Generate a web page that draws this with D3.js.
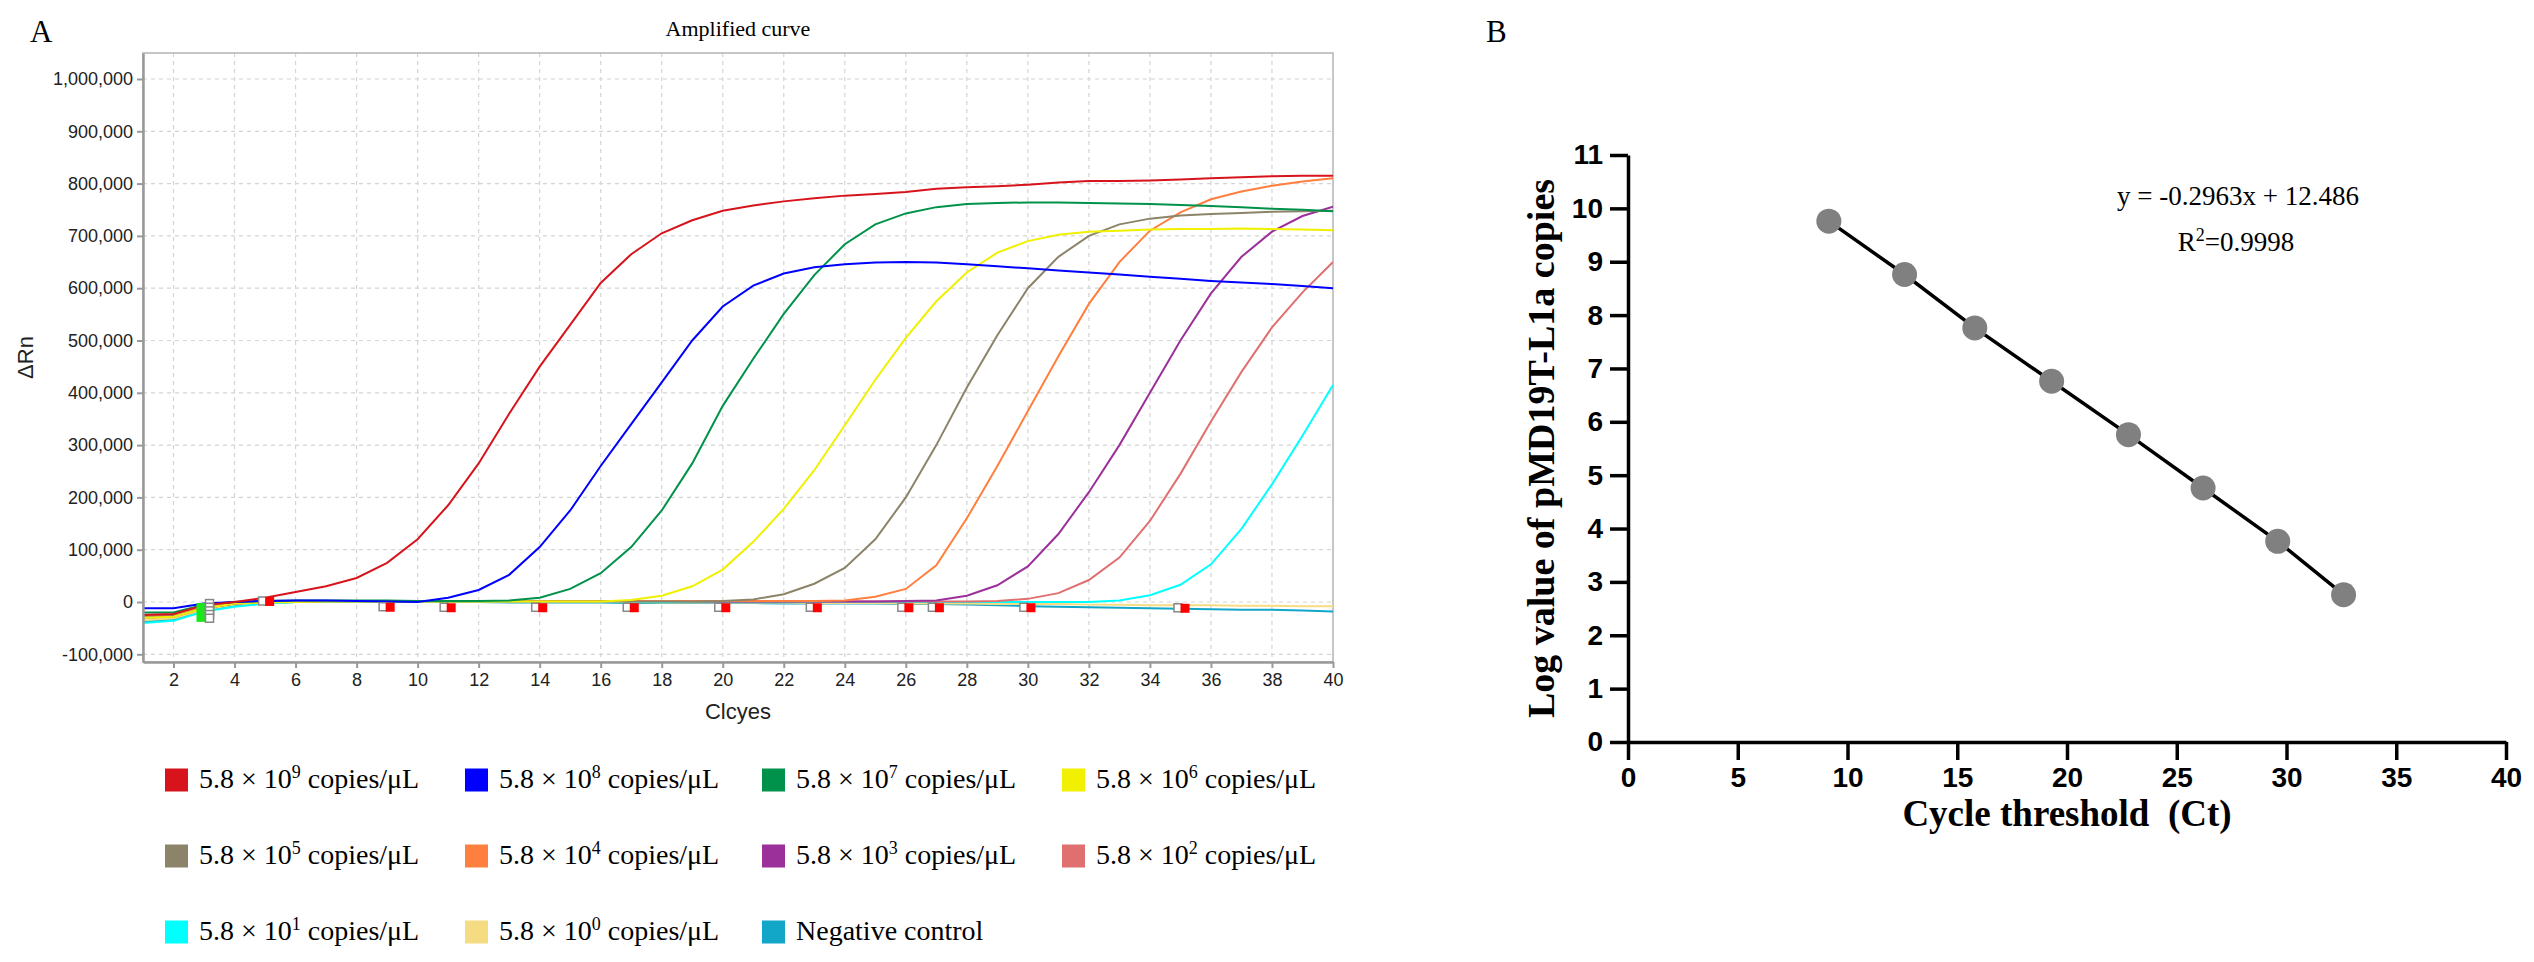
<!DOCTYPE html>
<html>
<head>
<meta charset="utf-8">
<script src="https://cdn.jsdelivr.net/npm/d3@7"></script>
<style>
body { margin: 0; background: #fff; }
svg { display: block; }
</style>
</head>
<body>
<script>

///////////////////////////////////////////////////////////////////////////////
// data: amplification curves (ΔRn in thousands), cycles 1..40

const cycles = [1, 2, 3, 4, 5, 6, 7, 8, 9, 10, 11, 12, 13, 14, 15, 16, 17, 18, 19, 20,
    21, 22, 23, 24, 25, 26, 27, 28, 29, 30, 31, 32, 33, 34, 35, 36, 37, 38, 39, 40]

const amp9 = [-25, -23, -6, 0, 8, 19, 30, 46, 75, 120, 185, 265, 360, 450, 530, 610, 665, 705, 730, 748,
    758, 766, 772, 777, 780, 784, 790, 793, 795, 798, 802, 805, 805, 806, 808, 810, 812, 814, 815, 815]
const amp8 = [-12, -12, -3, 0, 2, 3, 3, 2, 1, 0, 8, 23, 52, 105, 175, 260, 340, 420, 500, 565,
    605, 628, 640, 646, 649, 650, 649, 646, 642, 638, 634, 630, 626, 622, 618, 614, 611, 608, 604, 600]
const amp7 = [-20, -20, -5, 0, 2, 3, 3, 3, 3, 2, 2, 2, 3, 8, 25, 55, 105, 175, 265, 375,
    465, 551, 625, 684, 722, 743, 755, 761, 763, 764, 764, 763, 762, 761, 759, 757, 755, 752, 750, 747]
const amp6 = [-30, -28, -12, -3, -1, 0, 1, 1, 1, 1, 1, 1, 1, 1, 1, 1, 4, 12, 30, 62,
    115, 178, 252, 338, 425, 505, 575, 630, 668, 690, 702, 708, 710, 712, 713, 713, 714, 713, 712, 711]
const amp5 = [-28, -27, -12, -3, 0, 1, 1, 1, 1, 1, 1, 1, 1, 1, 1, 1, 1, 1, 1, 2,
    5, 15, 35, 65, 120, 200, 300, 410, 510, 600, 660, 700, 722, 733, 739, 742, 744, 746, 747, 748]
const amp4 = [-25, -24, -10, -2, 0, 1, 2, 2, 2, 2, 2, 2, 2, 2, 2, 2, 2, 2, 2, 2,
    2, 2, 2, 3, 10, 25, 70, 160, 260, 365, 470, 570, 650, 710, 745, 770, 785, 796, 804, 810]
const amp3 = [-27, -25, -11, -3, 0, 1, 2, 2, 2, 2, 2, 2, 2, 2, 2, 2, 2, 2, 2, 1,
    1, 1, 1, 1, 1, 2, 3, 12, 32, 68, 130, 210, 300, 400, 500, 590, 660, 708, 738, 756]
const amp2 = [-30, -28, -12, -3, 0, 1, 2, 2, 2, 2, 2, 2, 2, 2, 2, 2, 2, 2, 1, 1,
    1, 1, 1, 1, 1, 1, 1, 1, 2, 6, 17, 42, 85, 155, 245, 345, 440, 525, 592, 650]
const amp1 = [-40, -36, -18, -9, -3, 0, 1, 1, 1, 1, 1, 1, 1, 1, 1, 1, 1, 0, 0, 0,
    0, 0, 0, 0, 0, 0, 0, 0, 0, 0, 0, 0, 3, 13, 33, 72, 140, 225, 318, 415]
const amp0 = [-35, -31, -15, -5, -2, 0, 1, 1, 1, 1, 1, 0, 0, 0, 0, 0, 0, -1, -1, -1,
    -1, -1, -2, -2, -2, -3, -3, -3, -4, -4, -4, -5, -5, -6, -6, -6, -7, -7, -8, -8]
const ampNeg = [-38, -33, -16, -7, -3, 0, 0, 0, 0, 0, 0, 0, -1, -1, -1, -1, -2, -2, -2, -2,
    -2, -3, -3, -3, -3, -4, -4, -5, -6, -8, -9, -10, -11, -12, -13, -14, -15, -15, -16, -18]

const seriesExponents = [9, 8, 7, 6, 5, 4, 3, 2, 1, 0, null]
const seriesColors = ['#d7141c', '#0000ff', '#00924a', '#f0f000', '#8c8468', '#ff7f3f',
    '#9b309b', '#e07070', '#00ffff', '#f5dc82', '#12a6c8']
const seriesValues = [amp9, amp8, amp7, amp6, amp5, amp4, amp3, amp2, amp1, amp0, ampNeg]

// threshold markers on the amplification plot
const markerCycles = [5.15, 9.1, 11.1, 14.1, 17.1, 20.1, 23.1, 26.1, 27.1, 30.1, 35.15]
const markerValues = [1, -10, -11, -11, -11, -11, -11, -11, -11, -11, -12]
const startMarkerValues = [-3, -10, -17, -24, -31]

const yTicksA = [-100, 0, 100, 200, 300, 400, 500, 600, 700, 800, 900, 1000]
const xTicksA = [2, 4, 6, 8, 10, 12, 14, 16, 18, 20, 22, 24, 26, 28, 30, 32, 34, 36, 38, 40]

// standard curve
const ctValues = [9.15, 12.6, 15.8, 19.3, 22.8, 26.2, 29.6, 32.6]
const logCopies = [9.76, 8.76, 7.76, 6.76, 5.76, 4.76, 3.76, 2.76]
const xTicksB = [0, 5, 10, 15, 20, 25, 30, 35, 40]
const yTicksB = [0, 1, 2, 3, 4, 5, 6, 7, 8, 9, 10, 11]

///////////////////////////////////////////////////////////////////////////////

const width = 2534
const height = 962
const serif = '"Times New Roman", "Liberation Serif", serif'
const sans = 'Arial, "Liberation Sans", sans-serif'

const svg = d3.select('body').append('svg')
    .attr('width', width)
    .attr('height', height)

///////////////////////////////////////////////////////////////////////////////
// panel A

const pa = { left: 143, right: 1333, top: 53, bottom: 662 }
const xA = d3.scaleLinear().domain([1, 40]).range([pa.left, pa.right])
const yA = d3.scaleLinear().domain([-114.7, 1049.7]).range([pa.bottom, pa.top])

svg.append('text')
    .attr('x', 30).attr('y', 42)
    .style('font-family', serif).style('font-size', '31px')
    .text('A')

svg.append('text')
    .attr('x', (pa.left + pa.right) / 2).attr('y', 36)
    .attr('text-anchor', 'middle')
    .style('font-family', serif).style('font-size', '22px')
    .text('Amplified curve')

const gA = svg.append('g')

// grid
gA.append('g').selectAll('line').data(yTicksA).join('line')
    .attr('x1', pa.left).attr('x2', pa.right)
    .attr('y1', d => yA(d)).attr('y2', d => yA(d))
    .attr('stroke', '#d4d4d4').attr('stroke-width', 1.2).attr('stroke-dasharray', '4,4')
gA.append('g').selectAll('line').data(xTicksA.filter(d => d < 40)).join('line')
    .attr('y1', pa.top).attr('y2', pa.bottom)
    .attr('x1', d => xA(d)).attr('x2', d => xA(d))
    .attr('stroke', '#d4d4d4').attr('stroke-width', 1.2).attr('stroke-dasharray', '4,4')

gA.append('rect')
    .attr('x', pa.left).attr('y', pa.top)
    .attr('width', pa.right - pa.left).attr('height', pa.bottom - pa.top)
    .attr('fill', 'none').attr('stroke', '#b4b4b4').attr('stroke-width', 1.5)

// curves
svg.append('clipPath').attr('id', 'clipA')
    .append('rect')
    .attr('x', pa.left).attr('y', pa.top)
    .attr('width', pa.right - pa.left).attr('height', pa.bottom - pa.top)

const line = d3.line()
    .x((d, i) => xA(cycles[i]))
    .y(d => yA(d))

gA.append('g').attr('clip-path', 'url(#clipA)')
    .selectAll('path')
    .data(seriesValues.map((v, i) => ({ v, c: seriesColors[i] })).reverse())
    .join('path')
        .attr('d', d => line(d.v))
        .attr('fill', 'none')
        .attr('stroke', d => d.c)
        .attr('stroke-width', 2)

// markers
const mk = 9
gA.append('rect')
    .attr('x', xA(2.9) - 4.5).attr('y', yA(-2))
    .attr('width', mk).attr('height', yA(-38) - yA(-2))
    .attr('fill', '#18e818')
gA.append('g').selectAll('rect').data(startMarkerValues).join('rect')
    .attr('x', xA(3.18) - 4).attr('y', d => yA(d) - 4)
    .attr('width', 8).attr('height', 8)
    .attr('fill', '#fff').attr('stroke', '#888').attr('stroke-width', 1.5)
gA.append('g').selectAll('rect').data(markerCycles).join('rect')
    .attr('x', d => xA(d) - 11).attr('y', (d, i) => yA(markerValues[i]) - 4.5)
    .attr('width', 8).attr('height', 8)
    .attr('fill', '#fff').attr('stroke', '#888').attr('stroke-width', 1.5)
gA.append('g').selectAll('rect').data(markerCycles).join('rect')
    .attr('x', d => xA(d) - 4.5).attr('y', (d, i) => yA(markerValues[i]) - 4.5)
    .attr('width', mk).attr('height', mk)
    .attr('fill', '#ff0000')

// axes
const fmt = d => d3.format(',')(d * 1000).replace('\u2212', '-')
const yAxisA = gA.append('g')
    .attr('transform', `translate(${pa.left},0)`)
    .call(d3.axisLeft(yA).tickValues(yTicksA).tickFormat(fmt).tickSize(6).tickPadding(4).tickSizeOuter(0))
const xAxisA = gA.append('g')
    .attr('transform', `translate(0,${pa.bottom})`)
    .call(d3.axisBottom(xA).tickValues(xTicksA).tickSize(6).tickPadding(5).tickSizeOuter(0))
for (const g of [yAxisA, xAxisA]) {
    g.select('.domain').attr('stroke', '#999').attr('stroke-width', 2.5)
    g.selectAll('.tick line').attr('stroke', '#999').attr('stroke-width', 2)
    g.selectAll('.tick text').attr('fill', '#222')
        .style('font-family', sans).style('font-size', '18px')
}

svg.append('text')
    .attr('transform', `translate(33,${(pa.top + pa.bottom) / 2}) rotate(-90)`)
    .attr('text-anchor', 'middle')
    .style('font-family', sans).style('font-size', '22px').attr('fill', '#222')
    .text('ΔRn')

svg.append('text')
    .attr('x', (pa.left + pa.right) / 2).attr('y', 719)
    .attr('text-anchor', 'middle')
    .style('font-family', sans).style('font-size', '22px').attr('fill', '#222')
    .text('Clcyes')

// legend
const legendX = [165, 465, 762, 1062]
const legendY = [780, 856, 932]
const legend = svg.append('g').selectAll('g').data(seriesExponents).join('g')
    .attr('transform', (d, i) => `translate(${legendX[i % 4]},${legendY[Math.floor(i / 4)]})`)
legend.append('rect')
    .attr('x', 0).attr('y', -11.5).attr('width', 23).attr('height', 23)
    .attr('fill', (d, i) => seriesColors[i])
const legendText = legend.append('text')
    .attr('x', 34).attr('y', 8)
    .style('font-family', serif).style('font-size', '28px')
legendText.each(function (d) {
    const t = d3.select(this)
    if (d === null) { t.text('Negative control'); return }
    t.append('tspan').text('5.8 × 10')
    t.append('tspan').attr('dy', -10).style('font-size', '18px').text(d)
    t.append('tspan').attr('dy', 10).text(' copies/μL')
})

///////////////////////////////////////////////////////////////////////////////
// panel B

const pb = { left: 1628, right: 2506, top: 155, bottom: 742 }
const xB = d3.scaleLinear().domain([0, 40]).range([pb.left, pb.right])
const yB = d3.scaleLinear().domain([0, 11]).range([pb.bottom, pb.top])

svg.append('text')
    .attr('x', 1486).attr('y', 42)
    .style('font-family', serif).style('font-size', '31px')
    .text('B')

const gB = svg.append('g')

const xAxisB = gB.append('g')
    .attr('transform', `translate(0,${pb.bottom})`)
    .call(d3.axisBottom(xB).tickValues(xTicksB).tickSize(18).tickPadding(7).tickSizeOuter(0))
const yAxisB = gB.append('g')
    .attr('transform', `translate(${pb.left},0)`)
    .call(d3.axisLeft(yB).tickValues(yTicksB).tickSize(18).tickPadding(7).tickSizeOuter(0))
for (const g of [xAxisB, yAxisB]) {
    g.select('.domain').attr('stroke', '#000').attr('stroke-width', 3.5)
    g.selectAll('.tick line').attr('stroke', '#000').attr('stroke-width', 3.5)
    g.selectAll('.tick text').attr('fill', '#000')
        .style('font-family', sans).style('font-size', '28px').style('font-weight', 'bold')
}

const pts = ctValues.map((x, i) => [x, logCopies[i]])
gB.append('path')
    .attr('d', d3.line().x(d => xB(d[0])).y(d => yB(d[1]))(pts))
    .attr('fill', 'none').attr('stroke', '#000').attr('stroke-width', 3.5)
gB.append('g').selectAll('circle').data(pts).join('circle')
    .attr('cx', d => xB(d[0])).attr('cy', d => yB(d[1]))
    .attr('r', 12.5).attr('fill', '#808080')

svg.append('text')
    .attr('x', 2238).attr('y', 205)
    .attr('text-anchor', 'middle')
    .style('font-family', serif).style('font-size', '27px')
    .text('y = -0.2963x + 12.486')
const r2 = svg.append('text')
    .attr('x', 2236).attr('y', 251)
    .attr('text-anchor', 'middle')
    .style('font-family', serif).style('font-size', '27px')
r2.append('tspan').text('R')
r2.append('tspan').attr('dy', -10).style('font-size', '18px').text('2')
r2.append('tspan').attr('dy', 10).text('=0.9998')

svg.append('text')
    .attr('transform', `translate(1554,${(pb.top + pb.bottom) / 2}) rotate(-90)`)
    .attr('text-anchor', 'middle')
    .style('font-family', serif).style('font-size', '38px').style('font-weight', 'bold')
    .text('Log value of pMD19T-L1a copies')

svg.append('text')
    .attr('x', (pb.left + pb.right) / 2).attr('y', 826)
    .attr('text-anchor', 'middle')
    .style('font-family', serif).style('font-size', '37px').style('font-weight', 'bold')
    .attr('xml:space', 'preserve')
    .text('Cycle threshold  (Ct)')

</script>
</body>
</html>
